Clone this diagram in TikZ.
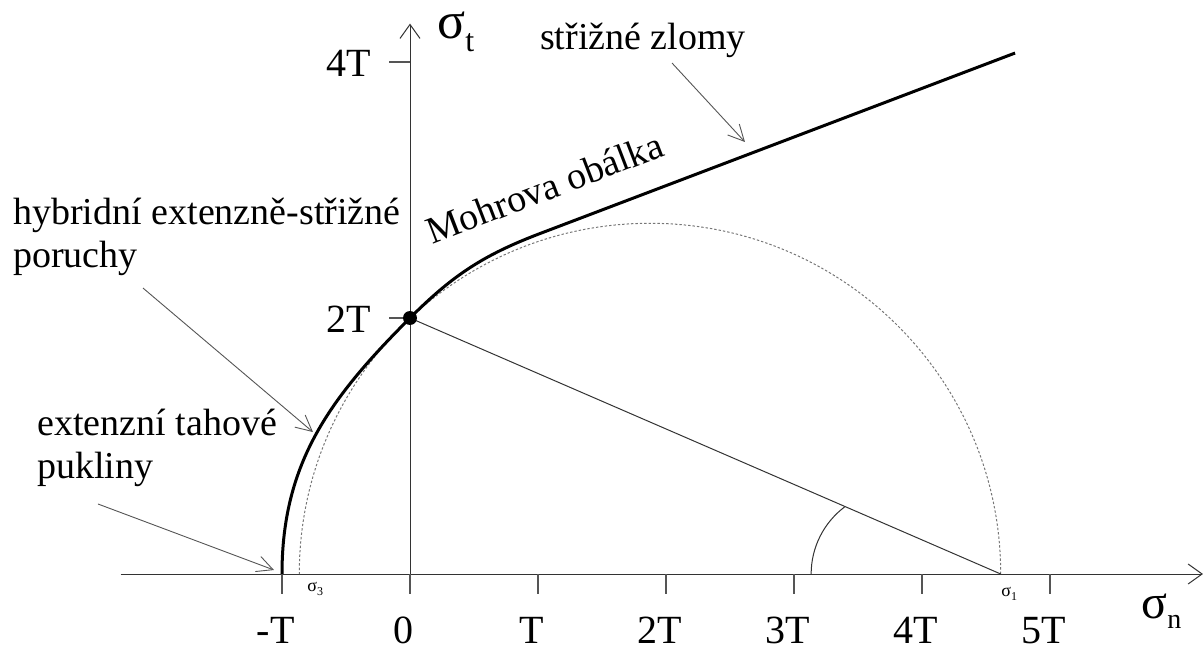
\documentclass[tikz,border=0pt]{standalone}
\usepackage{fontspec}
\setmainfont{Liberation Serif}
\usetikzlibrary{arrows.meta}
\definecolor{axisgray}{HTML}{333333}
\definecolor{notegray}{HTML}{555555}
\definecolor{circlegray}{HTML}{777777}
\tikzset{
  axisline/.style={
    draw=axisgray,
    line width=0.5pt,
    -{Straight Barb[length=7pt,width=10pt]}
  },
  tickmark/.style={
    draw=notegray,
    line width=0.6pt
  },
  ticklabel/.style={
    font=\fontsize{20}{20}\selectfont,
    inner sep=0pt
  },
  notelabel/.style={
    font=\fontsize{19}{21.5}\selectfont,
    inner sep=0pt,
    align=left
  },
  notearrow/.style={
    draw=notegray,
    line width=0.45pt,
    -{Straight Barb[length=8pt,width=8pt]}
  },
  envelope/.style={
    draw=black,
    line width=1.5pt
  },
  mohrcircle/.style={
    draw=circlegray,
    line width=0.5pt,
    dash pattern=on 1.2pt off 1pt
  },
  radiusline/.style={
    draw=axisgray,
    line width=0.5pt
  }
}

\begin{document}
\begin{tikzpicture}[x=64pt, y=64pt]
    \useasboundingbox (-3.203125,-0.5859375) rectangle (6.203125,4.484375);

    % axes
    \coordinate (xstart) at (-2.26,0);
    \coordinate (xend) at (6.195,0);
    \coordinate (origin) at (0,0);
    \coordinate (yend) at (0,4.3);
    \draw[axisline] (xstart) -- (xend);
    \draw[axisline] (origin) -- (yend);

    % ticks and their labels
    \foreach \k/\lab in {-1/-T,0/0,1/T,2/2T,3/3T,4/4T,5/5T}{
        \draw[tickmark] (\k,0) -- (\k,-0.156);
        \node[ticklabel, anchor=base] (xlab\k) at (\k-0.05,-0.54) {\lab};
    }
    \foreach \k/\lab in {2/2T,4/4T}{
        \draw[tickmark] (-0.164,\k) -- (0,\k);
        \node[ticklabel, anchor=base east] (ylab\k) at (-0.3,\k-0.113) {\lab};
    }

    \node[inner sep=0pt, anchor=base west] (sigmat) at (0.211,4.18)
        {\fontsize{26}{26}\selectfont σ\raisebox{-6.5pt}{\fontsize{16}{16}\selectfont t}};
    \node[inner sep=0pt, anchor=base west] (sigman) at (5.711,-0.344)
        {\fontsize{24}{24}\selectfont σ\raisebox{-5pt}{\fontsize{14}{14}\selectfont n}};

    % Mohr circle
    \coordinate (sigone) at (4.615,0);
    \coordinate (sigthree) at (-0.865,0);
    \coordinate (touch) at (0,2);
    \draw[mohrcircle] (sigone) arc[start angle=0, end angle=180, radius=2.74];
    \draw[radiusline] (touch) -- (sigone);
    \draw[radiusline] (3.134,0) arc[start angle=180, end angle=126.6, radius=0.656];
    \node[inner sep=0pt, anchor=base west] (sonelab) at (4.617,-0.172)
        {\fontsize{9}{9}\selectfont σ\raisebox{-2pt}{\fontsize{6}{6}\selectfont 1}};
    \node[inner sep=0pt, anchor=base west] (sthreelab) at (-0.805,-0.14)
        {\fontsize{9}{9}\selectfont σ\raisebox{-2pt}{\fontsize{6}{6}\selectfont 3}};

    % envelope
    \coordinate (tensile) at (-1,0);
    \coordinate (bend) at (1.016,2.66);
    \coordinate (envend) at (4.727,4.07);
    \draw[envelope] (tensile) to[out=90,in=225] (touch) to[out=45,in=200.8] (bend) -- (envend);
    \fill (touch) circle[radius=3.5pt];
    \node[notelabel, anchor=base west, rotate=21] (obalka) at (0.172,2.570) {Mohrova obálka};

    % notes (base anchor sits on the last line)
    \node[notelabel, anchor=base] (zlomy) at (1.82,4.094) {střižné zlomy};
    \coordinate (zlomyfrom) at (2.047,3.992);
    \coordinate (zlomyto) at (2.617,3.375);
    \draw[notearrow] (zlomyfrom) -- (zlomyto);

    \node[notelabel, anchor=base west] (hybrid) at (-3.102,2.391) {hybridní extenzně-střižné\\poruchy};
    \coordinate (hybridfrom) at (-2.086,2.234);
    \coordinate (hybridto) at (-0.758,1.109);
    \draw[notearrow] (hybridfrom) -- (hybridto);

    \node[notelabel, anchor=base west] (tahove) at (-2.914,0.750) {extenzní tahové\\pukliny};
    \coordinate (tahovefrom) at (-2.4375,0.547);
    \coordinate (tahoveto) at (-1.0625,0.031);
    \draw[notearrow] (tahovefrom) -- (tahoveto);
\end{tikzpicture}
\end{document}
